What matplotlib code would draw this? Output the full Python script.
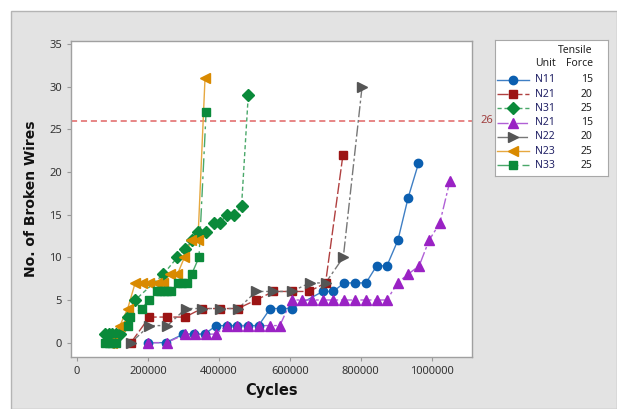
import matplotlib.pyplot as plt
from matplotlib.patches import Rectangle
from matplotlib.lines import Line2D

plt.rcParams["font.family"] = ["Noto Sans", "DejaVu Sans"]

# ---- data ----
n11_x = [200e3, 250e3, 300e3, 330e3, 360e3, 392e3, 422e3, 452e3, 482e3, 512e3,
         545e3, 575e3, 605e3, 693e3, 723e3, 753e3, 783e3, 815e3, 845e3, 874e3,
         905e3, 934e3, 963e3]
n11_y = [0, 0, 1, 1, 1, 2, 2, 2, 2, 2, 4, 4, 4, 6, 6, 7, 7, 7, 9, 9, 12, 17, 21]

n21a_x = [152e3, 204e3, 255e3, 305e3, 352e3, 403e3, 454e3, 505e3, 554e3, 605e3, 655e3,
          701e3, 750e3]
n21a_y = [0, 3, 3, 3, 4, 4, 4, 5, 6, 6, 6, 7, 22]

n31_x = [80e3, 90e3, 100e3, 110e3, 120e3, 143e3, 164e3, 243e3, 283e3, 305e3, 323e3,
         342e3, 363e3, 385e3, 403e3, 422e3, 443e3, 464e3, 483e3]
n31_y = [1, 1, 1, 1, 1, 3, 5, 8, 10, 11, 12, 13, 13, 14, 14, 15, 15, 16, 29]

n21b_x = [201e3, 253e3, 305e3, 333e3, 363e3, 391e3, 422e3, 452e3, 482e3, 512e3, 543e3,
          572e3, 605e3, 634e3, 664e3, 693e3, 723e3, 753e3, 783e3, 815e3, 845e3, 874e3,
          904e3, 933e3, 965e3, 993e3, 1023e3, 1052e3]
n21b_y = [0, 0, 1, 1, 1, 1, 2, 2, 2, 2, 2, 2, 5, 5, 5, 5, 5, 5, 5, 5, 5, 5,
          7, 8, 9, 12, 14, 19]

n22_x = [152e3, 204e3, 255e3, 307e3, 352e3, 403e3, 455e3, 505e3, 554e3, 605e3, 657e3,
         701e3, 751e3, 804e3]
n22_y = [0, 2, 2, 4, 4, 4, 4, 6, 6, 6, 7, 7, 10, 30]

n23_x = [90e3, 100e3, 121e3, 143e3, 164e3, 184e3, 204e3, 225e3, 243e3, 262e3, 283e3,
         303e3, 322e3, 341e3, 361e3]
n23_y = [0, 0, 2, 4, 7, 7, 7, 7, 7, 8, 8, 10, 12, 12, 31]

n33_x = [80e3, 90e3, 100e3, 110e3, 143e3, 150e3, 182e3, 204e3, 225e3, 235e3, 245e3,
         255e3, 265e3, 285e3, 297e3, 310e3, 323e3, 344e3, 364e3]
n33_y = [0, 0, 0, 0, 2, 3, 4, 5, 6, 6, 6, 6, 6, 7, 7, 7, 8, 10, 27]

units = ["N11", "N21", "N31", "N21", "N22", "N23", "N33"]
forces = ["15", "20", "25", "15", "20", "25", "25"]
threshold = 26

series = [(n11_x, n11_y), (n21a_x, n21a_y), (n31_x, n31_y), (n21b_x, n21b_y),
          (n22_x, n22_y), (n23_x, n23_y), (n33_x, n33_y)]
colors = ["#0b5fb0", "#9c1414", "#0a8a3a", "#9a22c4", "#555555", "#d98a00", "#0a8a3a"]
line_colors = ["#3f7fc4", "#b04040", "#4aa86a", "#b060d6", "#777777", "#e6a840", "#4aa86a"]
markers = ["o", "s", "D", "^", ">", "<", "s"]
msizes = [6, 6, 6, 6.5, 6.5, 6.5, 6]
dashes = [(None), (8, 2), (3, 2), (8, 2, 2, 2), (8, 2, 2, 2), (None), (10, 3, 2, 3)]

fig = plt.figure(figsize=(6.17, 4.09), dpi=100)
fig.patch.set_facecolor("white")
fig.add_artist(Rectangle((11 / 617, 0), 606 / 617, 398 / 409, transform=fig.transFigure,
                         facecolor="#e3e3e3", edgecolor="#b4b4b4", lw=1, zorder=-10))

ax = fig.add_axes([71 / 617, 52 / 409, 401 / 617, 316 / 409])
ax.set_facecolor("white")

for (xs, ys), c, lc, m, ms, d in zip(series, colors, line_colors, markers, msizes, dashes):
    ln, = ax.plot(xs, ys, color=lc, lw=1.0, zorder=2)
    if d is not None:
        ln.set_dashes(d)
    ax.plot(xs, ys, ls="none", marker=m, ms=ms, color=c, mec=c, zorder=3)

ax.axhline(threshold, color="#e06464", lw=1.1, dashes=(4, 2.5), zorder=1)
ax.text(1.02, threshold, str(threshold), transform=ax.get_yaxis_transform(),
        ha="left", va="center", fontsize=8, color="#a04040")

ax.set_xlim(-17e3, 1114e3)
ax.set_ylim(-1.68, 35.35)
ax.set_xticks([0, 200000, 400000, 600000, 800000, 1000000])
ax.set_xticklabels(["0", "200000", "400000", "600000", "800000", "1000000"])
ax.set_yticks(range(0, 36, 5))
ax.tick_params(colors="#9a9a9a", labelcolor="#333333", labelsize=8, length=3, width=0.8)
for s in ax.spines.values():
    s.set_color("#a0a0a0")
    s.set_linewidth(1)

ax.set_xlabel("Cycles", fontsize=10.5, fontweight="bold", family="DejaVu Sans",
              color="#111111", labelpad=4)
ax.set_ylabel("No. of Broken Wires", fontsize=10, fontweight="bold", family="DejaVu Sans",
              color="#111111", labelpad=8)

# legend box drawn in pixel coordinates
lg = fig.add_axes([495 / 617, 1 - 176 / 409, 113 / 617, 136 / 409])
lg.set_xlim(0, 113)
lg.set_ylim(136, 0)
lg.set_xticks([])
lg.set_yticks([])
lg.set_facecolor("white")
for s in lg.spines.values():
    s.set_color("#a8a8a8")
lg.text(97.7, 10.7, "Tensile", ha="right", va="center", fontsize=7.5, color="#222222")
lg.text(40, 24, "Unit", ha="left", va="center", fontsize=7.5, color="#222222")
lg.text(97.7, 24, "Force", ha="right", va="center", fontsize=7.5, color="#222222")
for i, (u, f) in enumerate(zip(units, forces)):
    yy = 40 + i * 14.2
    ln = Line2D([2, 34], [yy, yy], color=line_colors[i], lw=1.0)
    if dashes[i] is not None:
        ln.set_dashes(dashes[i])
    lg.add_line(ln)
    lg.plot([18], [yy], marker=markers[i], ms=msizes[i], color=colors[i], ls="none")
    lg.text(40, yy, u, ha="left", va="center", fontsize=7.5, color="#222266")
    lg.text(97.7, yy, f, ha="right", va="center", fontsize=7.5, color="#222222")

fig.savefig("out.png", dpi=100, facecolor=fig.get_facecolor())
